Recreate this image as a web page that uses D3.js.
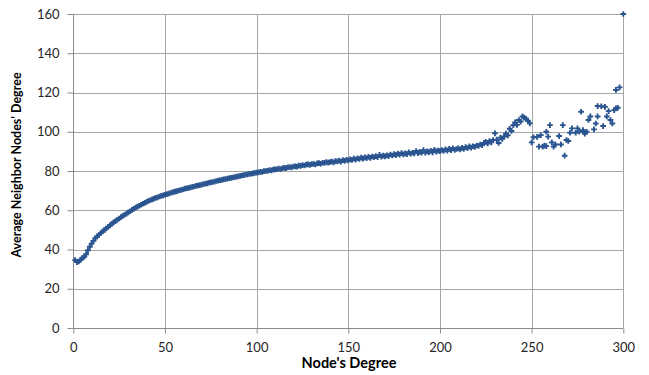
<!DOCTYPE html>
<html>
<head>
<meta charset="utf-8">
<script src="https://cdn.jsdelivr.net/npm/d3@7"></script>
<style>
html,body{margin:0;padding:0;background:#fff;}
svg{display:block;}
</style>
</head>
<body>
<svg id="chart" width="649" height="375"></svg>
<script>
// Dense part: average neighbor degree for node degree 1, 2, 3, ... (index + 1)
const denseValues = [
34.6,33.6,33.9,34.8,35.7,36.3,37.6,39.6,41.4,43.0,
44.4,45.7,46.7,47.5,48.4,49.2,50.0,50.8,51.5,52.3,
53.1,53.8,54.5,55.1,55.8,56.5,57.1,57.7,58.3,58.9,
59.5,60.2,60.7,61.3,61.8,62.3,62.8,63.3,63.8,64.3,
64.8,65.1,65.5,65.9,66.3,66.6,67.0,67.3,67.6,67.9,
68.2,68.5,68.8,69.1,69.4,69.6,69.9,70.2,70.4,70.7,
71.0,71.2,71.4,71.7,71.9,72.1,72.4,72.6,72.8,73.1,
73.3,73.5,73.7,74.0,74.2,74.4,74.6,74.9,75.1,75.3,
75.5,75.7,75.9,76.1,76.3,76.5,76.7,76.9,77.1,77.3,
77.5,77.7,77.9,78.1,78.3,78.5,78.6,78.8,79.0,79.2,
79.3,79.6,79.5,79.9,80.0,80.1,80.4,80.3,80.7,80.8,
80.9,81.2,81.0,81.4,81.6,81.5,81.9,82.0,81.8,82.3,
82.4,82.2,82.7,82.6,83.0,82.8,83.2,83.4,83.1,83.5,
83.6,83.3,83.9,84.0,83.7,84.2,84.1,84.5,84.3,84.6,
84.8,84.4,85.0,84.9,85.3,84.8,85.5,85.2,85.7,85.4,
85.9,85.6,86.3,85.8,86.5,86.1,86.8,86.3,86.9,86.6,
87.2,86.7,87.4,87.0,87.6,87.1,88.2,87.3,87.8,87.5,
88.0,87.6,88.4,87.9,88.6,88.1,88.9,88.3,89.1,88.5,
89.0,88.6,89.5,88.8,89.3,89.0,90.2,89.1,89.7,89.3,
90.6,89.4,90.0,89.6,90.3,89.5,90.8,89.9,90.4,90.1,
90.7,90.2,91.0,90.4,91.3,90.6,91.6,90.8,91.2,91.5,
91.0,91.8,91.3,92.2,91.6,92.5,91.9,92.6,92.3,93.0,
92.8,93.5,93.2,94.3,94.8,94.0,95.3,94.6,95.8,99.2,
96.0,94.3,97.0,96.4,97.6,99.0,98.2,101.5,100.4,103.3,
104.8,103.5,106.0,105.2,107.8,107.2,106.6,105.6,104.3
];
// Sparse tail (high-degree nodes)
const tailDegrees = [250,251,253,254,255,256,257,258,258,259,260,261,262,263,265,266,267,268,269,270,271,272,274,275,276,277,278,279,280,281,282,284,285,286,286,288,289,290,291,292,293,294,295,296,297,296,298,300];
const tailValues  = [94.6,97.2,97.4,92.4,98.3,92.4,92.9,92.7,100.0,97.5,103.4,94.6,92.4,93.5,97.8,93.5,103.4,87.8,95.8,95.3,99.5,101.7,99.5,101.7,100.0,110.2,100.8,99.0,100.0,106.0,107.8,101.2,104.2,107.8,113.1,113.0,102.9,112.7,107.8,110.5,106.0,104.2,111.0,111.9,112.2,121.3,122.6,160];

const xTicks = [0,50,100,150,200,250,300];
const yTicks = [0,20,40,60,80,100,120,140,160];
const xTitle = "Node's Degree";
const yTitle = "Average Neighbor Nodes' Degree";

const points = denseValues.map((v,i)=>({x:i+1,y:v}))
  .concat(tailDegrees.map((d,i)=>({x:d,y:tailValues[i]})));

const svg = d3.select("#chart");
const pLeft = 73.3, pRight = 623.3, pTop = 14, pBottom = 328;
const x = d3.scaleLinear().domain([0,300]).range([pLeft,pRight]);
const y = d3.scaleLinear().domain([0,160]).range([pBottom,pTop]);
const font = "Lato, 'Liberation Sans', sans-serif";
const grid = "#a6a6a6";

// gridlines
svg.append("g").selectAll("line").data(yTicks.filter(t=>t>0)).join("line")
  .attr("x1",pLeft).attr("x2",pRight)
  .attr("y1",d=>Math.round(y(d))+0.5).attr("y2",d=>Math.round(y(d))+0.5)
  .attr("stroke",grid).attr("stroke-width",1);
svg.append("g").selectAll("line").data(xTicks.filter(t=>t>0)).join("line")
  .attr("y1",pTop).attr("y2",pBottom)
  .attr("x1",d=>Math.round(x(d))+0.5).attr("x2",d=>Math.round(x(d))+0.5)
  .attr("stroke",grid).attr("stroke-width",1);

// axes
const yAxis = d3.axisLeft(y).tickValues(yTicks).tickSize(6).tickPadding(8);
const xAxis = d3.axisBottom(x).tickValues(xTicks).tickSize(5).tickPadding(9);
const gy = svg.append("g").attr("transform",`translate(${Math.round(pLeft)+0.5},0)`).call(yAxis);
const gx = svg.append("g").attr("transform",`translate(0,${Math.round(pBottom)+0.5})`).call(xAxis);
gy.select(".domain").attr("stroke","#8c8c8c").attr("d",`M0,${y(160)}V${y(0)}`);
gx.select(".domain").attr("stroke","#8c8c8c").attr("d",`M${x(0)},0H${x(300)}`);
[gx,gy].forEach(g=>{
  g.selectAll(".tick line").attr("stroke","#8c8c8c");
  g.selectAll(".tick text").attr("fill","#262626").style("font-family",font).style("font-size","13px");
});

// points
const sym = d3.symbol().type(d3.symbolCross).size(18);
svg.append("g").selectAll("path").data(points).join("path")
  .attr("transform",d=>`translate(${x(d.x)},${y(d.y)})`)
  .attr("d",sym)
  .attr("fill","#2a5490");

// titles
svg.append("text").attr("x",349).attr("y",368).attr("text-anchor","middle")
  .style("font-family",font).style("font-size","14.5px").style("font-weight","bold")
  .attr("fill","#000").text(xTitle);
svg.append("text").attr("transform","translate(21,165) rotate(-90)").attr("text-anchor","middle")
  .style("font-family",font).style("font-size","12.5px").style("font-weight","bold")
  .attr("fill","#000").text(yTitle);
</script>
</body>
</html>
